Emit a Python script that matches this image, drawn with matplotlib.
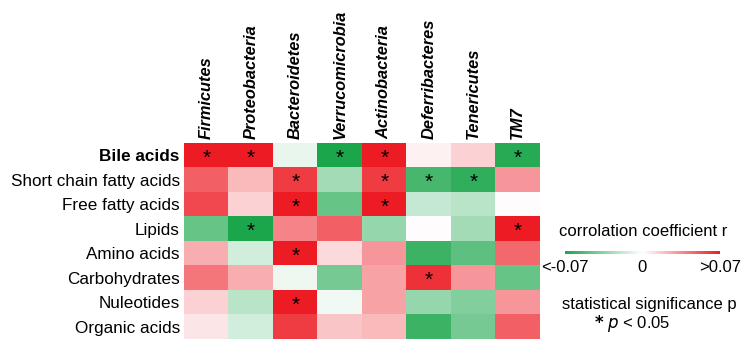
import numpy as np
import matplotlib
matplotlib.use('Agg')
import matplotlib.pyplot as plt
from matplotlib.colors import LinearSegmentedColormap, Normalize

plt.rcParams['font.family'] = ['Liberation Sans', 'DejaVu Sans']

phyla = ['Firmicutes', 'Proteobacteria', 'Bacteroidetes', 'Verrucomicrobia',
         'Actinobacteria', 'Deferribacteres', 'Tenericutes', 'TM7']
metabolites = ['Bile acids', 'Short chain fatty acids', 'Free fatty acids', 'Lipids',
               'Amino acids', 'Carbohydrates', 'Nuleotides', 'Organic acids']

# correlation coefficient r (estimated, clipped at +/-0.07)
r_values = np.array([
    [0.070, 0.070, -0.007, -0.070, 0.070, 0.004, 0.014, -0.066],
    [0.049, 0.021, 0.060, -0.028, 0.060, -0.056, -0.063, 0.032],
    [0.056, 0.014, 0.070, -0.046, 0.070, -0.018, -0.021, 0.001],
    [-0.046, -0.070, 0.038, 0.049, -0.032, 0.001, -0.028, 0.070],
    [0.025, -0.014, 0.070, 0.011, 0.032, -0.060, -0.049, 0.046],
    [0.042, 0.025, -0.005, -0.042, 0.028, 0.063, 0.032, -0.046],
    [0.014, -0.021, 0.070, -0.004, 0.028, -0.032, -0.038, 0.032],
    [0.008, -0.014, 0.060, 0.018, 0.021, -0.060, -0.042, 0.049],
])

# p < 0.05 markers (row, column)
significant = [(0, 0), (0, 1), (0, 3), (0, 4), (0, 7),
               (1, 2), (1, 4), (1, 5), (1, 6),
               (2, 2), (2, 4),
               (3, 1), (3, 7),
               (4, 2),
               (5, 5),
               (6, 2)]

GREEN = '#1BA64B'
RED = '#ED1C24'
cmap = LinearSegmentedColormap.from_list('gwr', [GREEN, '#FFFFFF', RED])
norm = Normalize(vmin=-0.07, vmax=0.07)

W, H = 751, 363
fig = plt.figure(figsize=(W / 100, H / 100), dpi=100)
ax = fig.add_axes([184 / W, (H - 339) / H, 356 / W, 196 / H])

n_rows, n_cols = r_values.shape
im = ax.imshow(r_values, cmap=cmap, norm=norm, aspect='auto',
               extent=(-0.5, n_cols - 0.5, n_rows - 0.5, -0.5))

for i, j in significant:
    ax.text(j, i + 0.12, '*', ha='center', va='center', fontsize=15, color='black')

ax.set_xticks(np.arange(n_cols))
ax.set_xticklabels(phyla, rotation=90, fontsize=11.8, fontweight='bold',
                   fontstyle='italic')
ax.xaxis.tick_top()
ax.set_yticks(np.arange(n_rows))
ax.set_yticklabels(metabolites, fontsize=12.3)
ax.get_yticklabels()[0].set_fontweight('bold')
ax.tick_params(length=0, pad=3)
for s in ax.spines.values():
    s.set_visible(False)

# colour key
cax = fig.add_axes([565 / W, (H - 254) / H, 155 / W, 3 / H])
cb = fig.colorbar(im, cax=cax, orientation='horizontal')
cb.outline.set_visible(False)
cb.set_ticks([-0.07, 0, 0.07])
cb.set_ticklabels(['<-0.07', '0', '>0.07'])
cax.tick_params(length=0, pad=4, labelsize=12)
fig.text(643 / W, 1 - 232 / H, 'corrolation coefficient r', ha='center',
         va='center', fontsize=12)
fig.text(649 / W, 1 - 305 / H, 'statistical significance p', ha='center',
         va='center', fontsize=12)
fig.text(594 / W, 1 - 323 / H, '$\\bf{*}$ $\\it{p}$ < 0.05', ha='left',
         va='center', fontsize=12)

fig.savefig('out.png', dpi=100)
